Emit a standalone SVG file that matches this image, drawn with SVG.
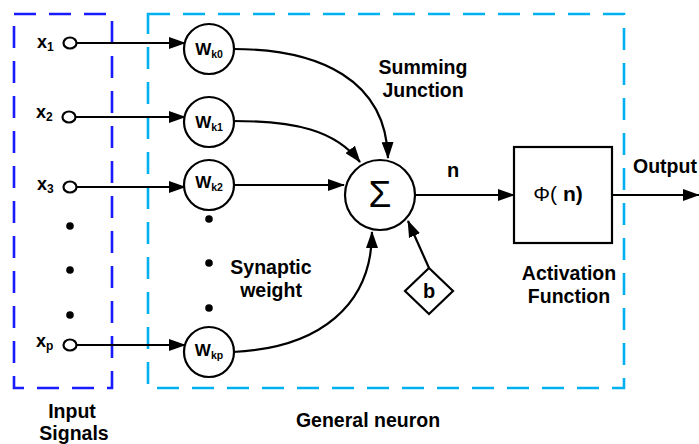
<svg xmlns="http://www.w3.org/2000/svg" width="699" height="444" viewBox="0 0 699 444">
<defs>
<style>
.ln{stroke:#000;stroke-width:2.2;fill:none}
.nd{stroke:#000;stroke-width:2.2;fill:#fff}
.t{font-family:"Liberation Sans",Arial,sans-serif;font-weight:bold;fill:#000}
.lbl{font-size:19.5px}
.x{font-size:18px}
.w{font-size:17px}
.sub{font-size:12px}
.wsub{font-size:10.5px}
</style>
<marker id="ah" markerWidth="17" markerHeight="12" refX="16" refY="6" orient="auto" markerUnits="userSpaceOnUse">
<path d="M0,0 L17,6 L0,12 Z" fill="#000"/>
</marker>
</defs>
<rect width="699" height="444" fill="#fff"/>
<g id="boxes">
<rect x="14" y="14" width="98" height="374" fill="none" stroke="#1a1aff" stroke-width="2.6" stroke-dasharray="22 13"/>
<rect x="148" y="14" width="476" height="374" fill="none" stroke="#00b0f0" stroke-width="2.6" stroke-dasharray="22 13"/>
</g>
<g id="connectors">
<line class="ln" x1="76" y1="43" x2="185" y2="43" marker-end="url(#ah)"/>
<line class="ln" x1="76" y1="117" x2="185" y2="117" marker-end="url(#ah)"/>
<line class="ln" x1="76" y1="187" x2="185" y2="187" marker-end="url(#ah)"/>
<line class="ln" x1="76" y1="345" x2="185" y2="345" marker-end="url(#ah)"/>
<path class="ln" d="M233,49 C320,49 386,80 388,158" marker-end="url(#ah)"/>
<path class="ln" d="M233,121 C295,121 335,130 360,162" marker-end="url(#ah)"/>
<line class="ln" x1="233" y1="185" x2="344" y2="185" marker-end="url(#ah)"/>
<path class="ln" d="M233,352 C320,348 372,305 372,232" marker-end="url(#ah)"/>
<line class="ln" x1="429" y1="268" x2="408" y2="221" marker-end="url(#ah)"/>
<line class="ln" x1="415" y1="195" x2="514" y2="195" marker-end="url(#ah)"/>
<line class="ln" x1="612" y1="195" x2="699" y2="195" marker-end="url(#ah)"/>
</g>
<g id="inputs">
<g id="x1"><ellipse class="nd" cx="70" cy="43" rx="6.5" ry="5.5"/><text class="t" x="37" y="48"><tspan class="x">x</tspan><tspan class="sub" dy="3">1</tspan></text></g>
<g id="x2"><ellipse class="nd" cx="69" cy="117" rx="6.5" ry="5.5"/><text class="t" x="36" y="118"><tspan class="x">x</tspan><tspan class="sub" dy="3">2</tspan></text></g>
<g id="x3"><ellipse class="nd" cx="70" cy="187" rx="6.5" ry="5.5"/><text class="t" x="37" y="190"><tspan class="x">x</tspan><tspan class="sub" dy="3">3</tspan></text></g>
<g id="xp"><ellipse class="nd" cx="70" cy="345" rx="6.5" ry="5.5"/><text class="t" x="36" y="347"><tspan class="x">x</tspan><tspan class="sub" dy="3">p</tspan></text></g>
<g id="dots1"><circle cx="70" cy="226" r="3.8"/><circle cx="70" cy="270" r="3.8"/><circle cx="70" cy="315" r="3.8"/></g>
</g>
<g id="weights">
<g id="wk0"><circle class="nd" cx="209" cy="49" r="25"/><text class="t" x="209" y="55" text-anchor="middle"><tspan class="w">W</tspan><tspan class="wsub" dy="3">k0</tspan></text></g>
<g id="wk1"><circle class="nd" cx="209" cy="122" r="25"/><text class="t" x="209" y="128" text-anchor="middle"><tspan class="w">W</tspan><tspan class="wsub" dy="3">k1</tspan></text></g>
<g id="wk2"><circle class="nd" cx="209" cy="185" r="25"/><text class="t" x="209" y="188" text-anchor="middle"><tspan class="w">W</tspan><tspan class="wsub" dy="3">k2</tspan></text></g>
<g id="wkp"><circle class="nd" cx="209" cy="352" r="25"/><text class="t" x="209" y="356" text-anchor="middle"><tspan class="w">W</tspan><tspan class="wsub" dy="3">kp</tspan></text></g>
<g id="dots2"><circle cx="209" cy="219" r="3.8"/><circle cx="209" cy="263" r="3.8"/><circle cx="209" cy="308" r="3.8"/></g>
</g>
<g id="sum"><circle class="nd" cx="380" cy="195" r="35"/><text x="380" y="207" text-anchor="middle" font-family="Liberation Sans, Arial, sans-serif" font-size="37">Σ</text></g>
<g id="bias"><polygon class="nd" points="429,268 453,291 429,314 405,291"/><text class="t" font-size="20" x="429" y="298" text-anchor="middle">b</text></g>
<g id="activation"><rect class="nd" x="514" y="147" width="98" height="96"/><text x="558" y="201" text-anchor="middle" font-family="Liberation Sans, Arial, sans-serif" font-size="21"><tspan>Φ(</tspan><tspan font-weight="bold" dx="6">n)</tspan></text></g>
<g id="labels">
<text class="t lbl" x="423" y="74" text-anchor="middle">Summing</text>
<text class="t lbl" x="423" y="97" text-anchor="middle">Junction</text>
<text class="t" font-size="20" x="447" y="177">n</text>
<text class="t lbl" x="633" y="173">Output</text>
<text class="t lbl" x="569" y="280" text-anchor="middle">Activation</text>
<text class="t lbl" x="569" y="303" text-anchor="middle">Function</text>
<text class="t lbl" x="271" y="274" text-anchor="middle">Synaptic</text>
<text class="t lbl" x="271" y="297" text-anchor="middle">weight</text>
<text class="t lbl" x="72" y="418" text-anchor="middle">Input</text>
<text class="t lbl" x="74" y="440" text-anchor="middle">Signals</text>
<text class="t lbl" x="368" y="427" text-anchor="middle">General neuron</text>
</g>
</svg>
